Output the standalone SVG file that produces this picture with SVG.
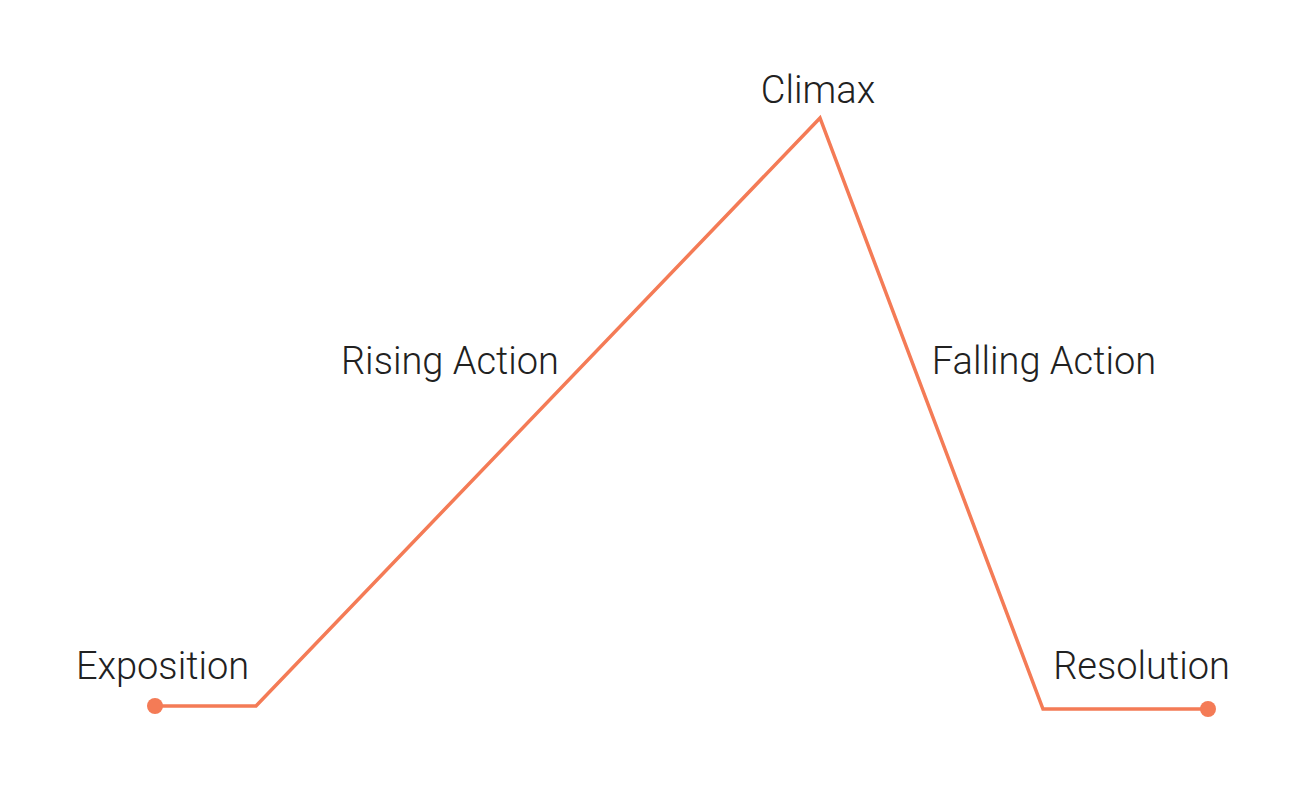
<svg xmlns="http://www.w3.org/2000/svg" width="1310" height="790" viewBox="0 0 1310 790">
<style>
.lbl{font-family:Roboto,"Liberation Sans",sans-serif;font-weight:300;font-size:38px;fill:#212121;text-anchor:middle}
.ln{fill:none;stroke:#F47B56;stroke-width:3.5;stroke-linejoin:miter}
.dot{fill:#F47B56}
</style>
<rect width="1310" height="790" fill="#ffffff"/>
<g id="connectors">
<polyline class="ln" points="155,706 256,706 820,118 1043,709 1208,709"/>
</g>
<g id="exposition"><circle class="dot" cx="155" cy="706" r="8"/><text class="lbl" x="162.5" y="679">Exposition</text></g>
<g id="rising-action"><text class="lbl" x="450" y="374">Rising Action</text></g>
<g id="climax"><text class="lbl" x="818" y="103">Climax</text></g>
<g id="falling-action"><text class="lbl" x="1044" y="374">Falling Action</text></g>
<g id="resolution"><circle class="dot" cx="1208" cy="709" r="8"/><text class="lbl" x="1141.5" y="679">Resolution</text></g>
</svg>
